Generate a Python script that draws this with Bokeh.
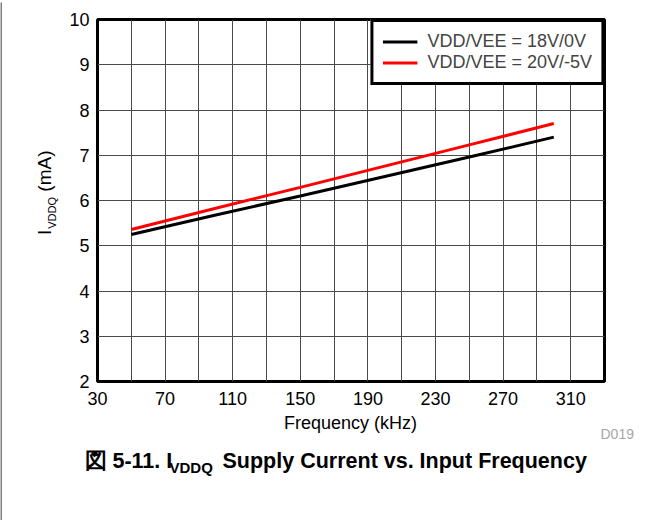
import math
from bokeh.plotting import figure
from bokeh.layouts import column, row
from bokeh.models import Range1d, FixedTicker, Legend, LegendItem
from bokeh.core.properties import value
from bokeh.embed import file_html
from bokeh.resources import INLINE

# ---- data ----
freq_khz = [50, 100, 150, 200, 250, 300]
iddq_18v_0v = [5.25, 5.68, 6.10, 6.53, 6.96, 7.40]
iddq_20v_m5v = [5.36, 5.83, 6.29, 6.76, 7.23, 7.70]
series_names = ["VDD/VEE = 18V/0V", "VDD/VEE = 20V/-5V"]
series_colors = ["#000000", "#ff0000"]
x_tick_values = [30, 70, 110, 150, 190, 230, 270, 310]
x_grid_values = list(range(30, 331, 20))
y_tick_values = [2, 3, 4, 5, 6, 7, 8, 9, 10]
x_title = "Frequency (kHz)"
y_title_parts = ["I", "VDDQ", "(mA)"]
caption_parts = ["図 5-11. I", "VDDQ", "Supply Current vs. Input Frequency"]
tag = "D019"

FONT = "Liberation Sans"
EDGE = "#808080"
MID = 0.346  # baseline -> visual middle, in em

MAIN_TOP = 2      # page y where the chart row starts
MAIN_H = 410      # chart row height -> bottom panel starts at page y 412
CAP_TOP = MAIN_TOP + MAIN_H
CAP_H = 520 - CAP_TOP


def blank(w, h, fill="white"):
    f = figure(width=w, height=h, output_backend="svg", toolbar_location=None,
               title=None, x_axis_location=None, y_axis_location=None,
               x_range=Range1d(0, w), y_range=Range1d(0, h),
               min_border=0, min_border_left=0, min_border_right=0,
               min_border_top=0, min_border_bottom=0)
    f.outline_line_color = None
    f.background_fill_color = fill
    f.border_fill_color = fill
    f.grid.visible = False
    return f


# ---- main chart (page x 66..663) ----
p = figure(width=597, height=MAIN_H, output_backend="svg", toolbar_location=None,
           title=None,
           x_range=Range1d(30, 330), y_range=Range1d(2, 10),
           min_border_left=30, min_border_right=59,
           min_border_top=17, min_border_bottom=31)
p.background_fill_color = "white"
p.border_fill_color = "white"
p.outline_line_color = "black"
p.outline_line_width = 3

for ax in (p.xaxis, p.yaxis):
    ax.axis_line_color = None
    ax.major_tick_line_color = None
    ax.minor_tick_line_color = None
    ax.major_tick_out = 0
    ax.major_tick_in = 0
    ax.minor_tick_out = 0
    ax.minor_tick_in = 0
    ax.major_label_text_font = FONT
    ax.major_label_text_font_size = "18px"
    ax.major_label_text_color = "black"
p.xaxis.ticker = FixedTicker(ticks=x_tick_values)
p.yaxis.ticker = FixedTicker(ticks=y_tick_values)
p.xaxis.major_label_standoff = 10
p.yaxis.major_label_standoff = 8

p.xgrid.ticker = FixedTicker(ticks=x_grid_values)
p.ygrid.ticker = FixedTicker(ticks=y_tick_values)
for g in (p.xgrid, p.ygrid):
    g.grid_line_color = "#4a4a4a"
    g.grid_line_width = 1

r1 = p.line(freq_khz, iddq_18v_0v, line_color=series_colors[0], line_width=3)
r2 = p.line(freq_khz, iddq_20v_m5v, line_color=series_colors[1], line_width=3)

legend = Legend(items=[LegendItem(label=series_names[0], renderers=[r1]),
                       LegendItem(label=series_names[1], renderers=[r2])],
                location="top_right", margin=0, padding=9, spacing=0,
                glyph_width=35, glyph_height=21, label_height=21,
                label_standoff=10,
                label_text_font=FONT, label_text_font_size="18px",
                border_line_color="black", border_line_width=3,
                border_line_alpha=1.0,
                background_fill_color="white", background_fill_alpha=1.0)
p.add_layout(legend)

# ---- y-axis title panel (page x 2..66) ----
ylab = blank(64, MAIN_H)
def ytxt(base_x, start_y, text, size_px):
    cx = base_x - MID * size_px
    ylab.text(x=[cx - 2], y=[CAP_TOP - start_y], text=[text], angle=math.pi / 2,
              text_font=value(FONT), text_font_size=value(f"{size_px}px"),
              text_color="black", text_align="left", text_baseline="middle")
ytxt(51, 246, y_title_parts[0], 19)
ytxt(55, 239, y_title_parts[1], 11)
ytxt(51, 197, y_title_parts[2], 19)

# ---- bottom panel (page x 2..663) ----
cap = blank(661, CAP_H)
def ctxt(px, base_y, text, size_px, align="left", color="black", style="normal"):
    cy = base_y - MID * size_px
    cap.text(x=[px - 2], y=[520 - cy], text=[text],
             text_font=value(FONT), text_font_size=value(f"{size_px}px"),
             text_color=color, text_font_style=style, text_align=align,
             text_baseline="middle")
ctxt(350, 429, x_title, 18, align="center")
ctxt(600, 438, tag, 14, color="#a6a6a6")
ctxt(84, 468, caption_parts[0], 21.5, style="bold")
ctxt(169, 472, caption_parts[1], 15, style="bold")
ctxt(222, 468, caption_parts[2], 21.5, style="bold")

# ---- page edges ----
top_edge = blank(663, 2, fill=EDGE)
left_edge = blank(2, 518, fill=EDGE)

layout = column(top_edge,
                row(left_edge,
                    column(row(ylab, p), cap)))

open("out.html", "w").write(file_html(layout, INLINE))
